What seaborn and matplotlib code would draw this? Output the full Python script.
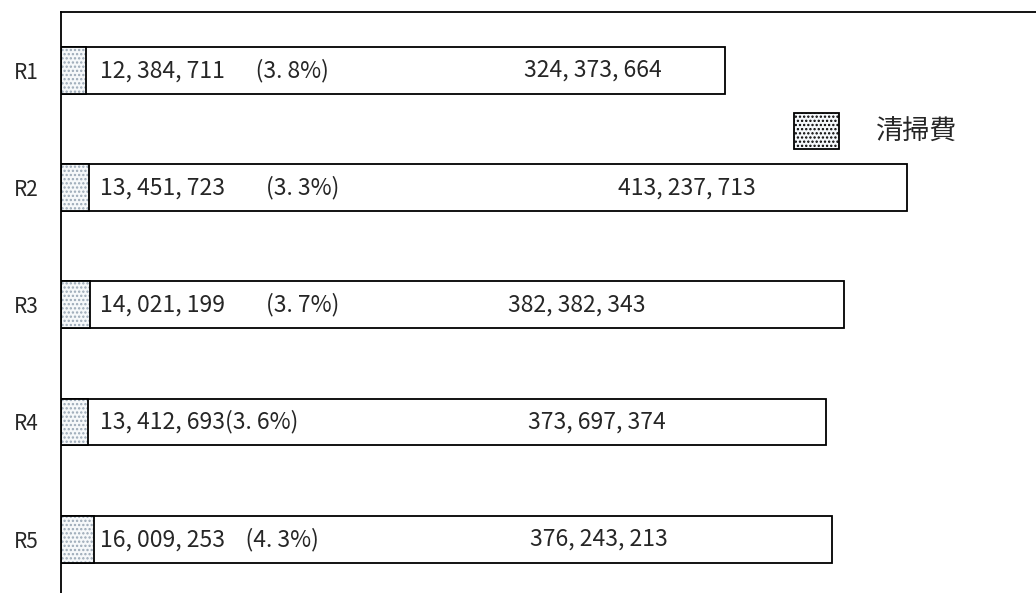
import matplotlib
matplotlib.use("Agg")
import matplotlib.pyplot as plt
import seaborn as sns
import pandas as pd
from matplotlib.patches import Patch

rows = ["R1", "R2", "R3", "R4", "R5"]
cleaning = [12384711, 13451723, 14021199, 13412693, 16009253]
totals = [324373664, 413237713, 382382343, 373697374, 376243213]

# where the total labels sit (in yen on the x axis) and gap before the pct
total_label_x = [226e6, 272e6, 218e6, 228e6, 229e6]
pct_gap = [6, 8, 8, 0, 4]

sns.set_style("white")
plt.rcParams["font.family"] = ["Noto Sans CJK JP", "DejaVu Sans"]
plt.rcParams["hatch.linewidth"] = 1.1

df = pd.DataFrame({"row": rows, "cleaning": cleaning, "total": totals})

fig = plt.figure(figsize=(10.36, 5.93), dpi=100)
ax = fig.add_axes([61 / 1036, 0, 1 - 61 / 1036, 1 - 12 / 593])

dot_face, dot_col = "#f5f8fb", "#9aa8b6"

# total bars
sns.barplot(data=df, y="row", x="total", orient="h", color="white",
            edgecolor="black", linewidth=1.3, width=0.4, ax=ax)
# cleaning share: dotted fill then black outline
sns.barplot(data=df, y="row", x="cleaning", orient="h", color=dot_face,
            edgecolor=dot_col, linewidth=0, hatch="....", width=0.4, ax=ax)
sns.barplot(data=df, y="row", x="cleaning", orient="h", fill=False,
            edgecolor="black", linewidth=1.3, width=0.4, ax=ax)

for i, (c, t) in enumerate(zip(cleaning, totals)):
    num = f"{c:,}".replace(",", ", ")
    pct = f"{c / t * 100:.1f}".replace(".", ". ")
    ax.text(19e6, i, num + " " * pct_gap[i] + f"({pct}%)", va="center",
            ha="left", fontsize=16.5)
    ax.text(total_label_x[i], i, f"{t:,}".replace(",", ", "), va="center",
            ha="left", fontsize=16.5)

ax.set_xlim(0, 476e6)
ax.set_ylim(4.46, -0.5)
ax.set_xlabel("")
ax.set_ylabel("")
ax.set_xticks([])
ax.tick_params(axis="y", length=0, labelsize=15, pad=16)
for s in ["right", "bottom"]:
    ax.spines[s].set_visible(False)
for s in ["left", "top"]:
    ax.spines[s].set_color("black")
    ax.spines[s].set_linewidth(1.3)

handle = Patch(facecolor=dot_face, edgecolor=dot_col, hatch="....", linewidth=0)
leg = fig.legend([handle], ["清掃費"], loc="center left",
                 bbox_to_anchor=(770 / 1036, 1 - 131 / 593), frameon=False,
                 fontsize=19.5, handlelength=1.65, handleheight=1.65,
                 handletextpad=1.35)
leg.legend_handles[0].set_edgecolor("black")
leg.legend_handles[0].set_linewidth(1.3)

fig.savefig("out.png", dpi=100)
